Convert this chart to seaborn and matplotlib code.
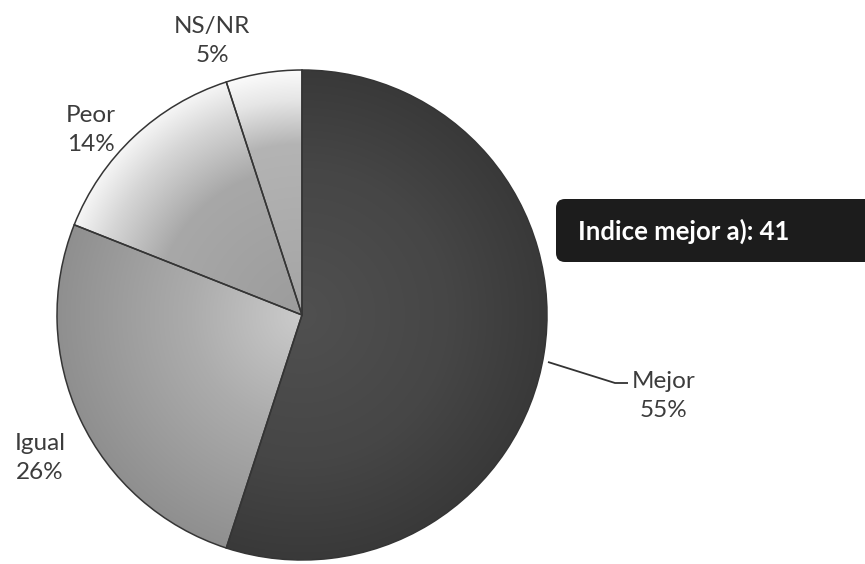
import numpy as np
import matplotlib
matplotlib.use("Agg")
import matplotlib.pyplot as plt
from matplotlib.patches import FancyBboxPatch
from matplotlib.colors import to_rgb
import seaborn as sns

# Survey answers and their shares (%)
categories = ["Mejor", "Igual", "Peor", "NS/NR"]
shares = [55, 26, 14, 5]
index_label = "Indice mejor a): 41"

W, H = 865, 564
sns.set_theme(style="white")
plt.rcParams["font.family"] = ["Lato", "DejaVu Sans"]

fig = plt.figure(figsize=(W / 100, H / 100), dpi=100)
ax = fig.add_axes([0, 0, 1, 1])


def Y(y):
    # pixel rows counted from the top
    return H - y


cx, cy, R = 302, Y(315), 245
base = sns.color_palette("Greys_r", 6)
wedges, _ = ax.pie(
    shares,
    colors=[base[1], base[3], base[4], base[4]],
    startangle=90,
    counterclock=False,
    center=(cx, cy),
    radius=R,
    wedgeprops=dict(edgecolor="#353535", linewidth=1.1),
)
ax.set_xlim(0, W)
ax.set_ylim(0, H)
ax.set_aspect("equal")
ax.axis("off")

# radial shading inside each wedge
stops = {
    "Mejor": [(0.0, "#505050"), (0.6, "#464646"), (1.0, "#393939")],
    "Igual": [(0.0, "#cbcbcb"), (0.45, "#acacac"), (1.0, "#8f8f8f")],
    "Peor": [(0.0, "#9c9c9c"), (0.6, "#a8a8a8"), (0.85, "#d6d6d6"), (1.0, "#f6f6f6")],
    "NS/NR": [(0.0, "#a4a4a4"), (0.7, "#b4b4b4"), (0.88, "#e6e6e6"), (1.0, "#fbfbfb")],
}
xx, yy = np.meshgrid(np.arange(W) + 0.5, np.arange(H) + 0.5)
rr = np.clip(np.hypot(xx - cx, yy - cy) / R, 0, 1)
for w, name in zip(wedges, categories):
    pos = [s[0] for s in stops[name]]
    cols = np.array([to_rgb(s[1]) for s in stops[name]])
    img = np.dstack([np.interp(rr, pos, cols[:, k]) for k in range(3)])
    im = ax.imshow(img, extent=(0, W, 0, H), origin="lower", zorder=1.5,
                   interpolation="bilinear")
    im.set_clip_path(w)
    # wedge keeps only its outline, drawn above the shading
    w.set_facecolor("none")
    w.set_zorder(2)

# category labels
label_pos = {
    "NS/NR": (212, 41),
    "Peor": (91, 130),
    "Igual": (40, 458),
    "Mejor": (664, 396),
}
for name, v in zip(categories, shares):
    x, y = label_pos[name]
    ax.text(x, Y(y), f"{name}\n{v}%", ha="center", va="center",
            fontsize=17.5, color="#3c3c3c", linespacing=1.45, zorder=3)

# leader line to the Mejor label
ax.plot([548, 615, 628], [Y(362), Y(383), Y(383)], color="#333333",
        linewidth=1.3, zorder=3, solid_capstyle="butt")

# index callout box
box = FancyBboxPatch((556, Y(262)), 340, 63,
                     boxstyle="round,pad=0,rounding_size=9",
                     facecolor="#1c1c1c", edgecolor="none", zorder=3,
                     clip_on=False)
ax.add_patch(box)
ax.text(578, Y(231), index_label, ha="left", va="center", fontsize=18.5,
        fontweight="bold", color="white", zorder=4)

fig.savefig("out.png", dpi=100)
